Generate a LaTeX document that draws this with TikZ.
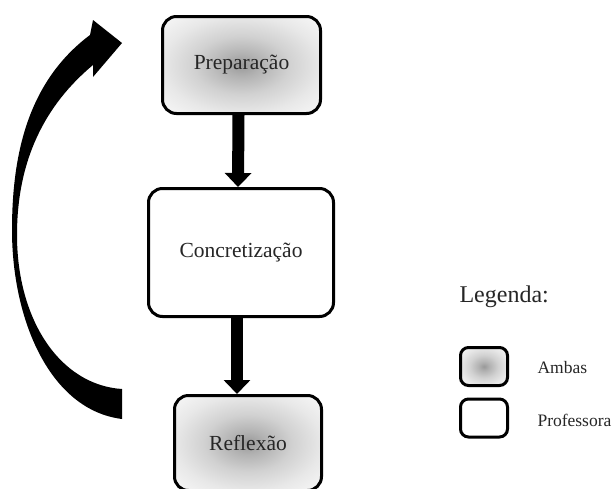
\documentclass[tikz,border=0pt]{standalone}
\usepackage{fontspec}
\setmainfont{Liberation Serif}
\usetikzlibrary{arrows.meta}
\definecolor{txt}{HTML}{262626}
\pgfdeclareradialshading{softglow}{\pgfpoint{0bp}{0bp}}{color(0bp)=(black!40); color(6bp)=(black!30); color(15bp)=(black!18); color(25bp)=(black!9); color(35bp)=(black!3); color(50bp)=(white)}
\begin{document}
\begin{tikzpicture}[x=1pt,y=-1pt,
  stage/.style={draw=black,line width=3pt,rounded corners=14pt,inner sep=0pt,text=txt,font=\fontsize{21.5}{24}\selectfont},
  both/.style={stage,shading=softglow},
  prof/.style={stage,fill=white},
  legbox/.style={draw=black,line width=3pt,rounded corners=8pt,minimum width=47pt,minimum height=38pt,inner sep=0pt},
  downarrow/.style={line width=12pt,-{Triangle[width=26pt,length=14pt]}},
  legtext/.style={anchor=west,text=txt,font=\fontsize{17.5}{20}\selectfont}]
\useasboundingbox (0,0) rectangle (614,488);
\fill[white] (0,0) rectangle (614,488);
\node[both,minimum width=158pt,minimum height=97pt] (prep) at (241.5,65) {Prepara\c{c}\~ao};
\node[prof,minimum width=185pt,minimum height=128pt] (conc) at (241,252.5) {Concretiza\c{c}\~ao};
\node[both,minimum width=147pt,minimum height=95pt] (refl) at (248,443) {Reflex\~ao};
\draw[downarrow] ([xshift=-3pt]prep.south) -- ([xshift=-3pt]conc.north);
\draw[downarrow] ([xshift=-4pt]conc.south) -- ([xshift=-11pt]refl.north);
% curved return arrow
\fill[black] (122,419) .. controls (50,410) and (12,320) .. (12,230)
  .. controls (12,150) and (30,80) .. (90,35)
  -- (93,20) -- (122,43) -- (93,77) -- (93,65)
  .. controls (45,105) and (17,160) .. (17,235)
  .. controls (17,320) and (60,385) .. (122,389) -- cycle;
% legend
\node[anchor=west,text=txt,font=\fontsize{24}{28}\selectfont] (leg) at (456,297) {Legenda:};
\node[legbox,shading=softglow] (lb1) at (484,366.5) {};
\node[legbox,fill=white] (lb2) at (484,418) {};
\node[legtext] (lt1) at (534,368) {Ambas};
\node[legtext] (lt2) at (534,420) {Professora};
\end{tikzpicture}
\end{document}
